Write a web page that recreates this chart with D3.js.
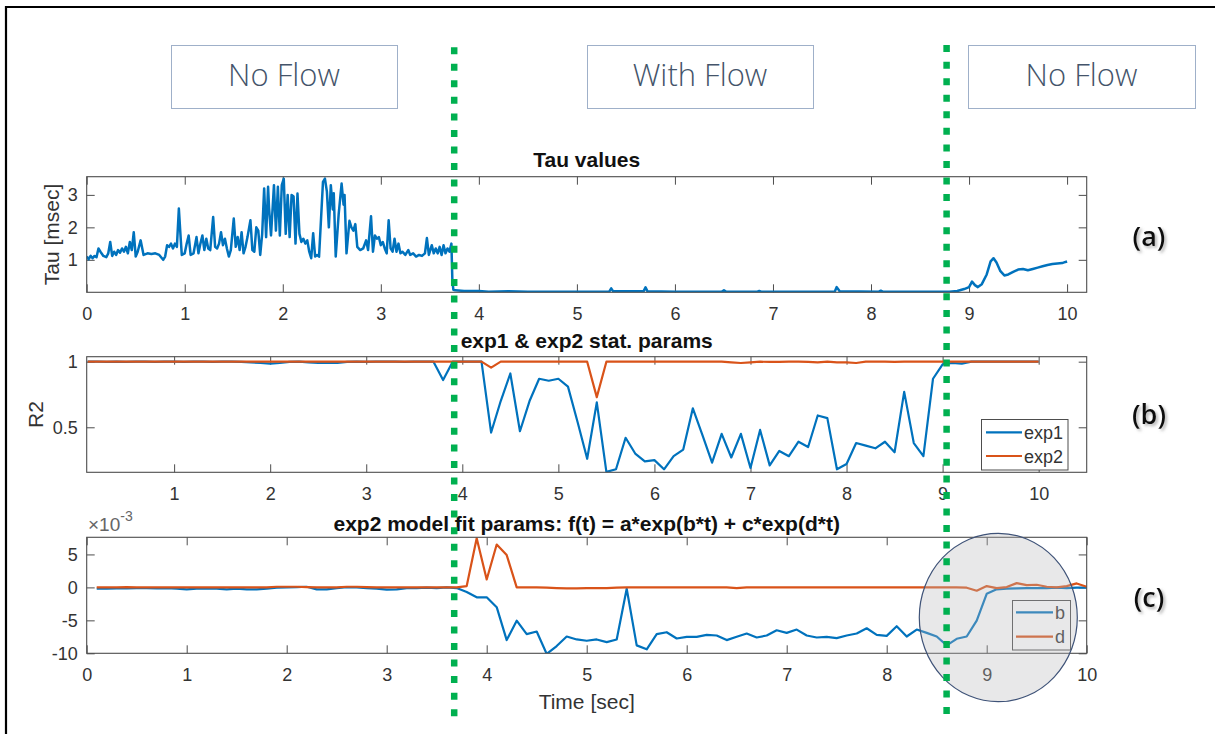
<!DOCTYPE html>
<html>
<head>
<meta charset="utf-8">
<script src="https://cdn.jsdelivr.net/npm/d3@7"></script>
<style>
  body { margin: 0; background: #fff; }
  svg { display: block; }
</style>
</head>
<body>
<svg id="fig" width="1215" height="734"></svg>
<script>
// ---------------- data ----------------
// (a) Tau values [msec] against time [sec]
const tauTime = [
  0.00,0.02,0.04,0.06,0.08,0.10,0.12,0.14,0.17,0.20,0.22,0.24,0.26,0.28,0.30,0.32,0.34,0.36,0.38,0.40,
  0.42,0.44,0.46,0.48,0.50,0.52,0.55,0.58,0.62,0.66,0.70,0.74,0.78,0.80,0.82,0.84,0.86,0.88,0.90,0.92,
  0.94,0.96,0.97,1.00,1.02,1.04,1.06,1.09,1.12,1.14,1.16,1.18,1.20,1.22,1.24,1.26,1.29,1.31,1.33,1.35,
  1.37,1.39,1.41,1.43,1.45,1.47,1.50,1.52,1.54,1.56,1.58,1.60,1.62,1.64,1.67,1.69,1.71,1.73,1.75,1.77,
  1.79,1.81,1.83,1.85,1.86,1.88,1.91,1.93,1.95,1.97,1.99,2.01,2.03,2.05,2.07,2.09,2.11,2.13,2.15,2.17,
  2.19,2.21,2.23,2.25,2.27,2.29,2.31,2.33,2.35,2.37,2.41,2.43,2.45,2.47,2.49,2.51,2.52,2.54,2.57,2.60,
  2.62,2.63,2.65,2.68,2.70,2.72,2.74,2.76,2.79,2.82,2.85,2.87,2.90,2.92,2.94,2.96,2.98,3.00,3.02,3.04,
  3.06,3.08,3.10,3.12,3.14,3.16,3.18,3.20,3.22,3.25,3.28,3.30,3.33,3.36,3.39,3.42,3.45,3.47,3.49,3.52,
  3.54,3.56,3.58,3.60,3.62,3.64,3.66,3.68,3.70,3.72,3.73,3.74,3.76,3.85,4.00,4.10,4.30,4.50,5.00,5.33,
  5.35,5.37,5.68,5.70,5.72,6.00,6.48,6.50,6.52,6.84,6.86,6.88,7.00,7.63,7.65,7.68,8.08,8.10,8.12,8.50,
  8.80,8.88,8.95,9.00,9.03,9.06,9.09,9.13,9.18,9.22,9.25,9.28,9.32,9.36,9.40,9.45,9.50,9.55,9.60,9.65,
  9.70,9.75,9.80,9.85,9.90,9.95,9.97,10.00
];
const tauValue = [
  1.10,1.02,1.12,1.05,1.12,1.08,1.35,1.25,1.12,1.08,1.20,1.55,1.12,1.25,1.15,1.30,1.22,1.35,1.25,1.40,
  1.20,1.55,1.30,1.85,1.10,1.25,1.60,1.15,1.20,1.18,1.20,1.15,1.00,1.10,1.45,1.40,1.50,1.35,1.50,1.40,
  2.58,1.60,1.15,1.20,1.50,1.75,1.15,1.20,1.70,1.20,1.50,1.75,1.30,1.65,1.35,1.30,2.32,1.40,1.35,1.50,
  1.85,1.45,1.65,1.35,1.10,1.30,2.27,1.40,1.70,1.30,1.85,1.20,1.40,1.70,2.22,1.30,1.25,2.00,1.90,1.15,
  1.80,3.20,1.70,3.25,2.60,1.75,3.30,1.90,3.25,1.75,3.30,3.50,1.80,3.00,1.70,3.00,2.95,1.50,3.04,1.80,
  1.55,1.65,1.50,1.60,1.25,1.05,1.82,1.10,1.15,1.10,3.40,3.50,3.10,2.00,3.30,2.55,3.05,1.10,2.40,3.35,
  2.70,3.00,1.20,2.20,2.00,1.90,2.10,1.40,1.30,1.35,1.60,1.30,2.34,1.25,1.75,1.65,1.70,1.45,1.55,1.35,
  1.20,2.22,1.35,1.25,1.65,1.25,1.50,1.20,1.25,1.15,1.30,1.15,1.20,1.10,1.15,1.12,1.20,1.67,1.15,1.45,
  1.20,1.35,1.20,1.40,1.15,1.45,1.20,1.35,1.25,1.50,0.35,0.08,0.06,0.04,0.04,0.02,0.03,0.02,0.02,0.02,
  0.12,0.03,0.03,0.15,0.03,0.02,0.02,0.06,0.02,0.02,0.04,0.02,0.02,0.02,0.16,0.03,0.02,0.05,0.02,0.02,
  0.02,0.04,0.10,0.16,0.33,0.22,0.16,0.25,0.55,0.95,1.05,0.92,0.65,0.52,0.55,0.63,0.70,0.72,0.68,0.72,
  0.76,0.80,0.84,0.87,0.89,0.90,0.92,0.95
];

// (b) and (c): one fit every 0.1 s
const fitTime = d3.range(1, 101).map(i => i / 10);

// (b) R2 of the single (exp1) and double (exp2) exponential fits
const r2Exp1 = [
  1.00,1.00,0.998,1.00,0.998,1.00,1.00,0.998,1.00,1.00,
  0.998,1.00,1.00,0.998,1.00,1.00,0.998,0.995,0.99,0.985,
  0.99,0.998,1.00,0.995,0.99,0.992,0.99,0.998,1.00,0.998,
  1.00,1.00,1.00,0.998,1.00,1.00,1.00,0.86,1.00,1.00,
  1.00,1.00,0.46,0.70,0.91,0.47,0.70,0.87,0.855,0.87,
  0.81,0.54,0.26,0.69,0.16,0.18,0.42,0.30,0.24,0.25,
  0.18,0.28,0.33,0.645,0.44,0.23,0.45,0.27,0.45,0.19,
  0.48,0.21,0.32,0.28,0.39,0.35,0.59,0.57,0.18,0.22,
  0.38,0.36,0.34,0.39,0.31,0.77,0.38,0.28,0.87,0.98,
  0.99,0.985,1.00,1.00,1.00,1.00,1.00,1.00,1.00,1.00
];
const r2Exp2 = [
  1.00,1.00,1.00,1.00,1.00,1.00,1.00,1.00,1.00,1.00,
  1.00,1.00,1.00,1.00,1.00,1.00,1.00,1.00,1.00,1.00,
  1.00,1.00,1.00,1.00,1.00,1.00,1.00,1.00,1.00,1.00,
  1.00,1.00,1.00,1.00,1.00,1.00,1.00,1.00,1.00,1.00,
  1.00,1.00,0.955,1.00,1.00,1.00,1.00,1.00,1.00,1.00,
  1.00,1.00,1.00,0.73,1.00,1.00,1.00,1.00,1.00,1.00,
  1.00,1.00,1.00,1.00,1.00,1.00,1.00,0.995,0.99,0.995,
  1.00,0.998,0.998,1.00,1.00,0.998,0.995,1.00,0.995,0.995,
  0.99,1.00,1.00,1.00,0.998,1.00,1.00,1.00,1.00,1.00,
  1.00,1.00,1.00,1.00,1.00,1.00,1.00,1.00,1.00,1.00
];

// (c) exponents b and d of f(t) = a*exp(b*t) + c*exp(d*t), in units of 1e-3
const paramB = [
  -0.2,-0.2,-0.15,-0.15,-0.1,-0.1,-0.15,-0.1,-0.2,-0.3,
  -0.2,-0.15,-0.2,-0.3,-0.2,-0.3,-0.3,-0.2,-0.05,0.0,
  0.05,0.1,-0.3,-0.3,-0.1,0.05,0.0,-0.1,-0.2,-0.35,
  -0.3,-0.1,-0.1,-0.05,-0.1,0.0,-0.1,-0.7,-1.5,-1.5,
  -3.0,-8.0,-5.05,-7.1,-6.7,-10.1,-8.9,-7.45,-7.9,-8.1,
  -7.9,-8.3,-7.9,-0.2,-8.8,-9.4,-7.1,-6.8,-7.75,-7.5,
  -7.5,-7.2,-7.3,-8.0,-7.5,-7.0,-7.6,-7.3,-6.5,-6.9,
  -6.4,-7.3,-7.6,-7.5,-7.7,-7.3,-7.0,-6.2,-7.2,-7.35,
  -5.9,-7.45,-6.4,-6.9,-7.45,-8.8,-7.8,-7.45,-5.05,-0.97,
  -0.3,-0.2,-0.15,-0.1,-0.1,-0.1,-0.05,-0.1,-0.05,-0.05
];
const paramD = [
  0,0,0,0.05,0,0,0,0,0,0,
  0,0,0,0,0,0,0,0,0.1,0.1,
  0.1,0.05,0,0,0,0.1,0.1,0.05,0,0,
  0,0,0,0,0,0,0,0.2,7.45,1.2,
  6.5,4.9,0,0,0,-0.05,-0.1,-0.15,-0.15,-0.1,
  -0.1,-0.1,-0.05,0,0,0,0,0,0,0,
  0,0,0,0,-0.1,0,0,0,0,0,
  0,0,0,0,0,0,0,0,0,0,
  0,0,0,0,0,0,0,-0.05,-0.5,0.2,
  -0.1,0.05,0.65,0.35,0.4,0.1,0,0.2,0.6,0.1
];

const xTicksA = [0,1,2,3,4,5,6,7,8,9,10];
const yTicksA = [1,2,3];
const xTicksB = [1,2,3,4,5,6,7,8,9,10];
const yTicksB = [0.5,1];
const xTicksC = [0,1,2,3,4,5,6,7,8,9,10];
const yTicksC = [-10,-5,0,5];

const phaseLabels = ["No Flow", "With Flow", "No Flow"];
const panelTags = ["(a)", "(b)", "(c)"];

// ---------------- drawing ----------------
const svg = d3.select("#fig");
const BLUE = "#0072BD", ORANGE = "#D95319", GREEN = "#00B050";
const AX = "#4d4d4d", TXT = "#333";
const FONT = "'Liberation Sans', Arial, Helvetica, sans-serif";

const defs = svg.append("defs");
const shadow = defs.append("filter").attr("id", "tagShadow")
  .attr("x", "-30%").attr("y", "-30%").attr("width", "160%").attr("height", "160%");
shadow.append("feDropShadow").attr("dx", 2).attr("dy", 2).attr("stdDeviation", 1.4)
  .attr("flood-color", "#777").attr("flood-opacity", 0.55);

// outer frame (top and left edges)
svg.append("path").attr("d", "M6,1000 V7 H1215")
  .attr("fill", "none").attr("stroke", "#000").attr("stroke-width", 2.2);

// phase boxes along the top
const phaseBoxes = [[171, 397], [587, 813], [968, 1195]];
phaseLabels.forEach((lab, i) => {
  const [x0, x1] = phaseBoxes[i];
  svg.append("rect").attr("x", x0 + 0.5).attr("y", 45.5).attr("width", x1 - x0).attr("height", 63)
    .attr("fill", "#fff").attr("stroke", "#9fb0c9").attr("stroke-width", 1);
  svg.append("text").attr("x", (x0 + x1) / 2).attr("y", 86).attr("text-anchor", "middle")
    .attr("font-family", "'Open Sans', 'Noto Sans', sans-serif").attr("font-weight", 300)
    .attr("font-size", 31).attr("fill", "#44546A").text(lab);
});

function panel(cfg) {
  const { x, y, xTicks, yTicks, yFmt, id } = cfg;
  const [L, R] = x.range();
  const [B, T] = y.range();
  const g = svg.append("g");

  defs.append("clipPath").attr("id", id).append("rect")
    .attr("x", L).attr("y", T).attr("width", R - L).attr("height", B - T);

  // white plot area
  g.append("rect").attr("x", L).attr("y", T).attr("width", R - L).attr("height", B - T).attr("fill", "#fff");

  const style = sel => {
    sel.select(".domain").remove();
    sel.selectAll(".tick line").attr("stroke", AX).attr("stroke-width", 1);
    sel.selectAll("text").attr("fill", TXT).attr("font-size", 18).attr("font-family", FONT);
    sel.attr("font-family", FONT);
  };

  g.append("g").attr("transform", `translate(0,${B})`)
    .call(d3.axisBottom(x).tickValues(xTicks).tickSizeInner(-8).tickSizeOuter(0).tickPadding(15).tickFormat(d3.format("d")))
    .call(style);
  g.append("g").attr("transform", `translate(0,${T})`)
    .call(d3.axisTop(x).tickValues(xTicks).tickSizeInner(-8).tickSizeOuter(0).tickFormat(() => ""))
    .call(style);
  g.append("g").attr("transform", `translate(${L},0)`)
    .call(d3.axisLeft(y).tickValues(yTicks).tickSizeInner(-8).tickSizeOuter(0).tickPadding(9).tickFormat(yFmt))
    .call(style);
  g.append("g").attr("transform", `translate(${R},0)`)
    .call(d3.axisRight(y).tickValues(yTicks).tickSizeInner(-8).tickSizeOuter(0).tickFormat(() => ""))
    .call(style);

  const lines = g.append("g").attr("clip-path", `url(#${id})`);
  cfg.series.forEach(s => {
    const pts = s.t.map((t, i) => [t, s.v[i]]);
    lines.append("path").datum(pts)
      .attr("fill", "none").attr("stroke", s.color).attr("stroke-width", cfg.lineWidth || 2.2)
      .attr("stroke-linejoin", "round")
      .attr("d", d3.line().x(d => x(d[0])).y(d => y(d[1])));
  });

  g.append("rect").attr("x", L).attr("y", T).attr("width", R - L).attr("height", B - T)
    .attr("fill", "none").attr("stroke", AX).attr("stroke-width", 1.1);

  g.append("text").attr("x", (L + R) / 2).attr("y", cfg.titleY).attr("text-anchor", "middle")
    .attr("font-family", FONT).attr("font-weight", "bold").attr("font-size", 21).attr("fill", "#111")
    .text(cfg.title);
  return g;
}

// (a) Tau values
const xa = d3.scaleLinear([0, 10.2], [86.7, 1086.7]);
const ya = d3.scaleLinear([0, 3.56], [292.3, 176.7]);
panel({ id: "clipA", x: xa, y: ya, xTicks: xTicksA, yTicks: yTicksA, yFmt: d3.format("d"),
  title: "Tau values", titleY: 166.5, lineWidth: 2.5,
  series: [{ t: tauTime, v: tauValue, color: BLUE }] });
svg.append("text").attr("transform", "translate(59,234.5) rotate(-90)").attr("text-anchor", "middle")
  .attr("font-family", FONT).attr("font-size", 21).attr("fill", TXT).text("Tau [msec]");

// (b) R2 of fits
const xb = d3.scaleLinear([0.09, 10.5], [86.7, 1086.7]);
const yb = d3.scaleLinear([0.157, 1.038], [472.3, 356.7]);
panel({ id: "clipB", x: xb, y: yb, xTicks: xTicksB, yTicks: yTicksB, yFmt: d3.format("~g"),
  title: "exp1 & exp2 stat. params", titleY: 347.5,
  series: [{ t: fitTime, v: r2Exp1, color: BLUE }, { t: fitTime, v: r2Exp2, color: ORANGE }] });
svg.append("text").attr("transform", "translate(43,414.5) rotate(-90)").attr("text-anchor", "middle")
  .attr("font-family", FONT).attr("font-size", 21).attr("fill", TXT).text("R2");

// legend (b)
const legB = svg.append("g");
legB.append("rect").attr("x", 981.5).attr("y", 419.5).attr("width", 86.5).attr("height", 50.5)
  .attr("fill", "#fff").attr("stroke", AX).attr("stroke-width", 1);
[["exp1", BLUE, 432.3], ["exp2", ORANGE, 456]].forEach(([lab, c, yy]) => {
  legB.append("line").attr("x1", 986).attr("x2", 1022).attr("y1", yy).attr("y2", yy)
    .attr("stroke", c).attr("stroke-width", 2.2);
  legB.append("text").attr("x", 1024).attr("y", yy + 6.5).attr("font-family", FONT)
    .attr("font-size", 18).attr("fill", TXT).text(lab);
});

// (c) exp2 exponents
const xc = d3.scaleLinear([0, 10], [86.7, 1086.7]);
const yc = d3.scaleLinear([-10, 7.6], [653.3, 537.3]);
panel({ id: "clipC", x: xc, y: yc, xTicks: xTicksC, yTicks: yTicksC, yFmt: d => String(d),
  title: "exp2 model fit params: f(t) = a*exp(b*t) + c*exp(d*t)", titleY: 530.5,
  series: [{ t: fitTime, v: paramB, color: BLUE }, { t: fitTime, v: paramD, color: ORANGE }] });
svg.append("text").attr("x", 586.7).attr("y", 709).attr("text-anchor", "middle")
  .attr("font-family", FONT).attr("font-size", 21).attr("fill", TXT).text("Time [sec]");
const expo = svg.append("text").attr("x", 88).attr("y", 531).attr("font-family", FONT)
  .attr("font-size", 19).attr("fill", "#666");
expo.append("tspan").text("\u00d710");
expo.append("tspan").attr("dy", -10).attr("font-size", 14).text("-3");

// legend (c)
const legC = svg.append("g");
legC.append("rect").attr("x", 1012.5).attr("y", 600.5).attr("width", 58).attr("height", 49.5)
  .attr("fill", "#fff").attr("stroke", AX).attr("stroke-width", 1);
[["b", BLUE, 612.3], ["d", ORANGE, 636.7]].forEach(([lab, c, yy]) => {
  legC.append("line").attr("x1", 1016).attr("x2", 1053).attr("y1", yy).attr("y2", yy)
    .attr("stroke", c).attr("stroke-width", 2.2);
  legC.append("text").attr("x", 1055).attr("y", yy + 6.5).attr("font-family", FONT)
    .attr("font-size", 18).attr("fill", TXT).text(lab);
});

// highlighted recovery region in (c)
svg.append("ellipse").attr("cx", 998.3).attr("cy", 617.5).attr("rx", 79).attr("ry", 84.2)
  .attr("fill", "#b8b8bc").attr("fill-opacity", 0.33)
  .attr("stroke", "#3f5378").attr("stroke-width", 1.2);

// panel tags
[["(a)", 237], ["(b)", 415], ["(c)", 598]].forEach(([lab, yy]) => {
  svg.append("text").attr("x", 1149).attr("y", yy + 9).attr("text-anchor", "middle")
    .attr("font-family", "'Open Sans', 'Noto Sans', sans-serif").attr("font-weight", 600)
    .attr("font-size", 27).attr("fill", "#111").attr("filter", "url(#tagShadow)").text(lab);
});

// phase boundaries (dotted green)
[[454.2, 47.2], [946.6, 45.1]].forEach(([xx, y0]) => {
  svg.append("line").attr("x1", xx).attr("x2", xx).attr("y1", y0).attr("y2", 722)
    .attr("stroke", GREEN).attr("stroke-width", 6.5).attr("stroke-dasharray", "7 9.55");
});
</script>
</body>
</html>
